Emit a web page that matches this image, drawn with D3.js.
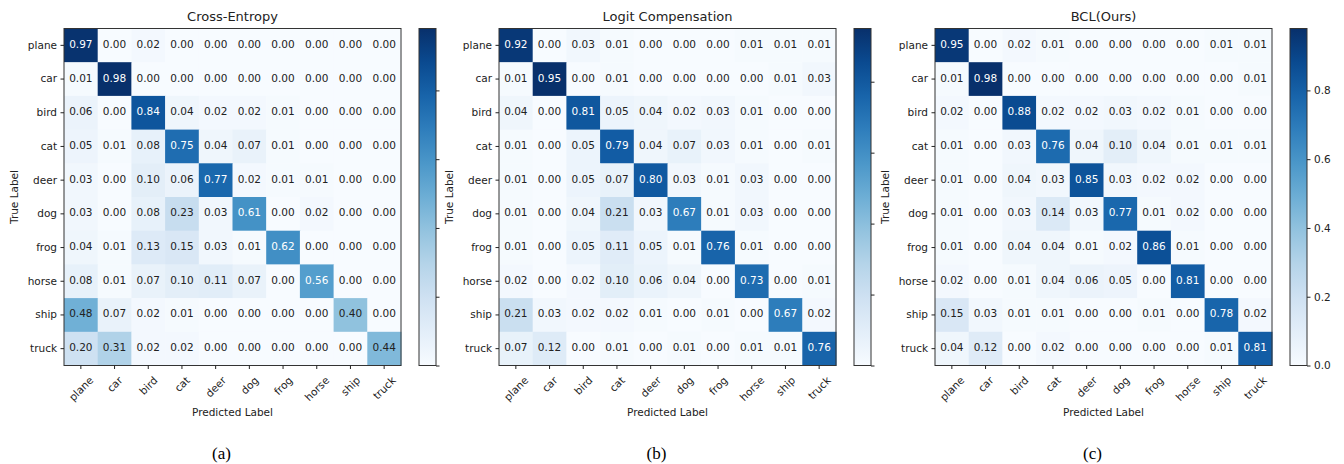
<!DOCTYPE html>
<html>
<head>
<meta charset="utf-8">
<script src="https://cdn.jsdelivr.net/npm/d3@7"></script>
<style>
  body { margin: 0; background: #fff; }
  svg { font-family: "DejaVu Sans", sans-serif; }
  .axis path, .axis line { stroke: #222; }
  .axis text { fill: #222; font-size: 10.5px; font-family: "DejaVu Sans", sans-serif; }
</style>
</head>
<body>
<svg id="chart" width="1344" height="464"></svg>
<script>
// class names shared by all three matrices
let classes = ["plane", "car", "bird", "cat", "deer", "dog", "frog", "horse", "ship", "truck"]

let titles = ["Cross-Entropy", "Logit Compensation", "BCL(Ours)"]
let captions = ["(a)", "(b)", "(c)"]

// rows = true label, cols = predicted label
let ceMatrix = [
  [0.97, 0.00, 0.02, 0.00, 0.00, 0.00, 0.00, 0.00, 0.00, 0.00],
  [0.01, 0.98, 0.00, 0.00, 0.00, 0.00, 0.00, 0.00, 0.00, 0.00],
  [0.06, 0.00, 0.84, 0.04, 0.02, 0.02, 0.01, 0.00, 0.00, 0.00],
  [0.05, 0.01, 0.08, 0.75, 0.04, 0.07, 0.01, 0.00, 0.00, 0.00],
  [0.03, 0.00, 0.10, 0.06, 0.77, 0.02, 0.01, 0.01, 0.00, 0.00],
  [0.03, 0.00, 0.08, 0.23, 0.03, 0.61, 0.00, 0.02, 0.00, 0.00],
  [0.04, 0.01, 0.13, 0.15, 0.03, 0.01, 0.62, 0.00, 0.00, 0.00],
  [0.08, 0.01, 0.07, 0.10, 0.11, 0.07, 0.00, 0.56, 0.00, 0.00],
  [0.48, 0.07, 0.02, 0.01, 0.00, 0.00, 0.00, 0.00, 0.40, 0.00],
  [0.20, 0.31, 0.02, 0.02, 0.00, 0.00, 0.00, 0.00, 0.00, 0.44]
]

let lcMatrix = [
  [0.92, 0.00, 0.03, 0.01, 0.00, 0.00, 0.00, 0.01, 0.01, 0.01],
  [0.01, 0.95, 0.00, 0.01, 0.00, 0.00, 0.00, 0.00, 0.01, 0.03],
  [0.04, 0.00, 0.81, 0.05, 0.04, 0.02, 0.03, 0.01, 0.00, 0.00],
  [0.01, 0.00, 0.05, 0.79, 0.04, 0.07, 0.03, 0.01, 0.00, 0.01],
  [0.01, 0.00, 0.05, 0.07, 0.80, 0.03, 0.01, 0.03, 0.00, 0.00],
  [0.01, 0.00, 0.04, 0.21, 0.03, 0.67, 0.01, 0.03, 0.00, 0.00],
  [0.01, 0.00, 0.05, 0.11, 0.05, 0.01, 0.76, 0.01, 0.00, 0.00],
  [0.02, 0.00, 0.02, 0.10, 0.06, 0.04, 0.00, 0.73, 0.00, 0.01],
  [0.21, 0.03, 0.02, 0.02, 0.01, 0.00, 0.01, 0.00, 0.67, 0.02],
  [0.07, 0.12, 0.00, 0.01, 0.00, 0.01, 0.00, 0.01, 0.01, 0.76]
]

let bclMatrix = [
  [0.95, 0.00, 0.02, 0.01, 0.00, 0.00, 0.00, 0.00, 0.01, 0.01],
  [0.01, 0.98, 0.00, 0.00, 0.00, 0.00, 0.00, 0.00, 0.00, 0.01],
  [0.02, 0.00, 0.88, 0.02, 0.02, 0.03, 0.02, 0.01, 0.00, 0.00],
  [0.01, 0.00, 0.03, 0.76, 0.04, 0.10, 0.04, 0.01, 0.01, 0.01],
  [0.01, 0.00, 0.04, 0.03, 0.85, 0.03, 0.02, 0.02, 0.00, 0.00],
  [0.01, 0.00, 0.03, 0.14, 0.03, 0.77, 0.01, 0.02, 0.00, 0.00],
  [0.01, 0.00, 0.04, 0.04, 0.01, 0.02, 0.86, 0.01, 0.00, 0.00],
  [0.02, 0.00, 0.01, 0.04, 0.06, 0.05, 0.00, 0.81, 0.00, 0.00],
  [0.15, 0.03, 0.01, 0.01, 0.00, 0.00, 0.01, 0.00, 0.78, 0.02],
  [0.04, 0.12, 0.00, 0.02, 0.00, 0.00, 0.00, 0.00, 0.01, 0.81]
]

let cbTicks = [0, 0.2, 0.4, 0.6, 0.8]

let matrices = [ceMatrix, lcMatrix, bclMatrix]
let panelLeft = [64, 499, 935]   // left edge of each matrix
let matTop = 28.5
let size = 337
let cbGap = 18, cbWidth = 17

let svg = d3.select('#chart')

matrices.forEach(function (matrix, p) {
  let g = svg.append('g').attr('transform', 'translate(' + panelLeft[p] + ',' + matTop + ')')
  let vmax = d3.max(matrix.flat())
  let color = d3.scaleSequential(d3.interpolateBlues).domain([0, vmax])

  let x = d3.scaleBand().domain(classes).range([0, size])
  let y = d3.scaleBand().domain(classes).range([0, size])

  let cells = []
  matrix.forEach((row, i) => row.forEach((v, j) => cells.push({ t: classes[i], p: classes[j], v: v })))

  g.selectAll('.cell')
    .data(cells)
    .enter()
    .append('rect')
    .attr('class', 'cell')
    .attr('x', d => x(d.p))
    .attr('y', d => y(d.t))
    .attr('width', x.bandwidth() + 0.5)
    .attr('height', y.bandwidth() + 0.5)
    .attr('fill', d => color(d.v))

  g.selectAll('.val')
    .data(cells)
    .enter()
    .append('text')
    .attr('class', 'val')
    .attr('x', d => x(d.p) + x.bandwidth() / 2)
    .attr('y', d => y(d.t) + y.bandwidth() / 2 - 1.5)
    .attr('text-anchor', 'middle')
    .attr('dominant-baseline', 'central')
    .attr('font-size', 10.5)
    .attr('fill', d => d.v > vmax / 2 ? '#fff' : '#222')
    .text(d => d.v.toFixed(2))

  // frame
  g.append('rect')
    .attr('width', size).attr('height', size)
    .attr('fill', 'none').attr('stroke', '#333').attr('stroke-width', 1)

  // y axis
  g.append('g').attr('class', 'axis y')
    .call(d3.axisLeft(y).tickSize(3.5).tickPadding(3.5))
    .call(a => a.select('.domain').remove())

  // x axis with 45 degree labels, centred under each tick
  let xa = g.append('g').attr('class', 'axis x')
    .attr('transform', 'translate(0,' + size + ')')
    .call(d3.axisBottom(x).tickSize(3.5))
  xa.select('.domain').remove()
  xa.selectAll('.tick text').each(function () {
    let t = d3.select(this)
    let w = this.getComputedTextLength()
    let half = (w + 10.5) / (2 * Math.SQRT2)
    t.attr('y', null).attr('dy', null)
      .attr('text-anchor', 'middle')
      .attr('dominant-baseline', 'central')
      .attr('transform', 'translate(0,' + (9 + half) + ') rotate(-45)')
  })

  // titles and axis labels
  g.append('text')
    .attr('x', size / 2).attr('y', -8)
    .attr('text-anchor', 'middle')
    .attr('font-size', 13).attr('fill', '#222')
    .text(titles[p])

  g.append('text')
    .attr('x', size / 2).attr('y', 387)
    .attr('text-anchor', 'middle')
    .attr('font-size', 10.5).attr('fill', '#222')
    .text('Predicted Label')

  g.append('text')
    .attr('transform', 'translate(-46,' + size / 2 + ') rotate(-90)')
    .attr('text-anchor', 'middle')
    .attr('font-size', 10.5).attr('fill', '#222')
    .text('True Label')

  svg.append('text')
    .attr('x', panelLeft[p] + size / 2 - 11).attr('y', 459)
    .attr('text-anchor', 'middle')
    .attr('font-family', '"Liberation Serif", serif')
    .attr('font-size', 17).attr('fill', '#000')
    .text(captions[p])

  // colorbar
  let cb = g.append('g').attr('transform', 'translate(' + (size + cbGap) + ',0)')
  let gid = 'grad' + p
  let grad = svg.append('defs').append('linearGradient')
    .attr('id', gid).attr('x1', 0).attr('y1', 1).attr('x2', 0).attr('y2', 0)
  d3.range(0, 1.0001, 0.1).forEach(s => {
    grad.append('stop').attr('offset', s).attr('stop-color', color(s * vmax))
  })
  cb.append('rect')
    .attr('width', cbWidth).attr('height', size)
    .attr('fill', 'url(#' + gid + ')')
    .attr('stroke', '#333').attr('stroke-width', 1)

  let cy = d3.scaleLinear().domain([0, vmax]).range([size, 0])
  let cbAxis = d3.axisRight(cy).tickValues(cbTicks).tickSize(3.5).tickPadding(3.5)
  if (p < 2) cbAxis.tickFormat('')
  else cbAxis.tickFormat(d3.format('.1f'))
  cb.append('g').attr('class', 'axis cb')
    .attr('transform', 'translate(' + cbWidth + ',0)')
    .call(cbAxis)
    .call(a => a.select('.domain').remove())
})
</script>
</body>
</html>
